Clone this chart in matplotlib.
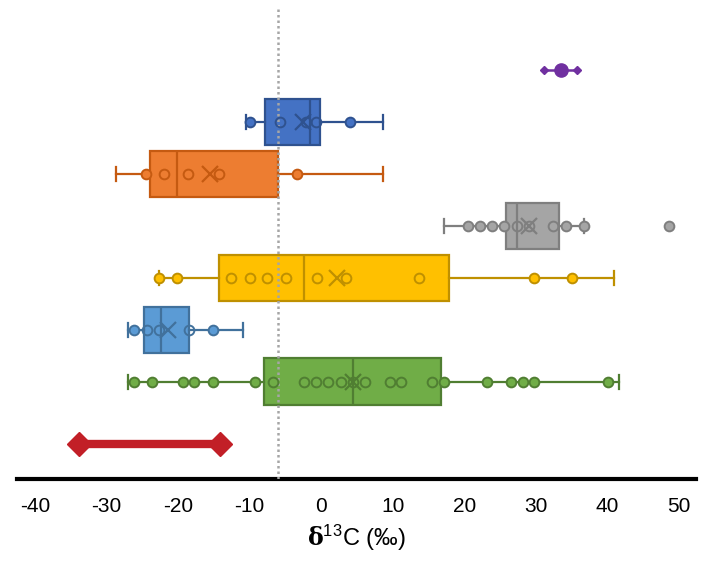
import numpy as np
import matplotlib.pyplot as plt

plt.rcParams['font.family'] = ['Liberation Sans', 'DejaVu Sans']
plt.rcParams['mathtext.fontset'] = 'dejavuserif'
plt.rcParams['axes.unicode_minus'] = False

# row order from top to bottom (y positions)
names = ['blue', 'orange', 'gray', 'yellow', 'lightblue', 'green']
ypos = [6, 5, 4, 3, 2, 1]
fills = ['#4472C4', '#ED7D31', '#A5A5A5', '#FFC000', '#5B9BD5', '#70AD47']
edges = ['#2F528F', '#C55A11', '#7F7F7F', '#BF9000', '#41719C', '#507E32']

whislo = [-10.5, -28.7, 17.2, -22.7, -27.0, -27.0]
q1 = [-7.9, -23.9, 25.9, -14.3, -24.7, -8.0]
med = [-1.5, -20.2, 27.4, -2.4, -22.4, 4.4]
q3 = [-0.14, -6.0, 33.3, 17.9, -18.4, 16.8]
whishi = [8.7, 8.7, 36.7, 41.0, -10.9, 41.7]
means = [-2.5, -15.5, 29.0, 2.2, -21.4, 4.4]

# points outside the box (filled) and inside the box (hollow)
outer_pts = [
    [-10.0, 4.1],
    [-24.5, -3.3],
    [20.6, 22.2, 23.9, 25.6, 34.2, 36.7, 48.6],
    [-22.7, -20.2, 29.8, 35.0],
    [-26.2, -15.1],
    [-26.2, -23.6, -19.3, -17.7, -15.1, -9.2, 17.2, 23.2, 26.5, 28.2, 29.8, 40.1],
]
inner_pts = [
    [-5.8, -2.1, -0.7],
    [-21.9, -18.6, -14.3],
    [27.4, 29.0, 32.4],
    [-12.6, -10.0, -7.5, -4.9, -0.6, 3.5, 13.7],
    [-24.4, -22.7, -18.5],
    [-6.7, -2.4, -0.7, 1.0, 2.8, 4.4, 6.1, 9.6, 11.2, 15.5],
]

# purple range and red range
purple_mid = 33.5
purple_range = [31.2, 35.7]
red_range = [-33.8, -14.1]
ref_line = -6.0

fig = plt.figure(figsize=(7.03, 5.64), dpi=100)
ax = fig.add_axes([17 / 703, 1 - 479 / 564, 679 / 703, 479 / 564])

stats = []
for i in range(len(names)):
    stats.append(dict(whislo=whislo[i], q1=q1[i], med=med[i], q3=q3[i],
                      whishi=whishi[i], mean=means[i], fliers=[]))

for i in range(len(names)):
    ax.bxp([stats[i]], positions=[ypos[i]], widths=0.9, orientation='horizontal',
           patch_artist=True, showmeans=True, showfliers=False, capwidths=[0.27],
           boxprops=dict(facecolor=fills[i], edgecolor=edges[i], linewidth=1.6),
           medianprops=dict(color=edges[i], linewidth=1.6),
           whiskerprops=dict(color=edges[i], linewidth=1.6),
           capprops=dict(color=edges[i], linewidth=1.6),
           meanprops=dict(marker='x', markersize=11, markeredgewidth=1.6,
                          markeredgecolor=edges[i]),
           zorder=2)
    ax.plot(outer_pts[i], [ypos[i]] * len(outer_pts[i]), 'o', ms=7,
            mfc=fills[i], mec=edges[i], mew=1.4, zorder=4)
    ax.plot(inner_pts[i], [ypos[i]] * len(inner_pts[i]), 'o', ms=7,
            mfc='none', mec=edges[i], mew=1.4, zorder=4)

# purple
ax.plot(purple_range, [7, 7], color='#7030A0', lw=1.8, marker='D', ms=4, zorder=3)
ax.plot([purple_mid], [7], 'o', color='#7030A0', ms=9.5, zorder=4)

# red
ax.plot(red_range, [-0.19, -0.19], color='#C21F27', lw=6, marker='D', ms=12,
        solid_capstyle='butt', zorder=3)

ax.axvline(ref_line, ymin=0, ymax=0.985, color='#A6A6A6', lw=1.8,
           linestyle=(0, (1, 1.2)), zorder=3)

ax.set_xlim(-42.5, 52.4)
ax.set_ylim(-0.87, 8.35)
ax.set_xticks(np.arange(-40, 51, 10))
ax.set_yticks([])
ax.tick_params(axis='x', length=0, pad=13, labelsize=15)
for s in ['top', 'right', 'left']:
    ax.spines[s].set_visible(False)
ax.spines['bottom'].set_linewidth(3)
ax.set_xlabel(r'$\mathbf{δ}^{\mathregular{13}}$C (‰)', fontsize=17, labelpad=5)

fig.savefig('out.png', dpi=100)
